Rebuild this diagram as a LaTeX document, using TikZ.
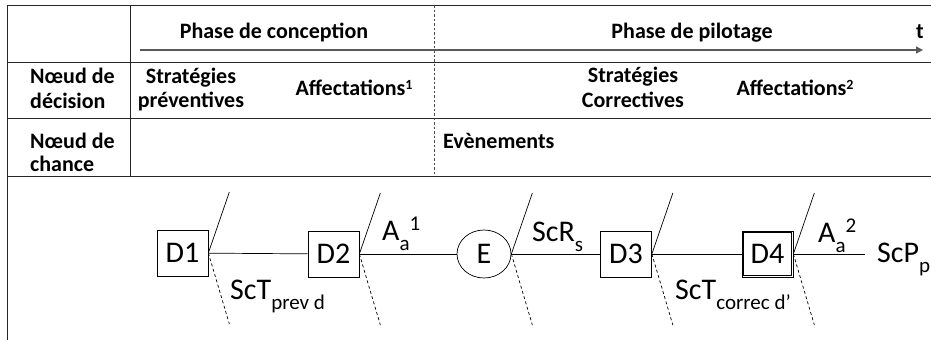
\documentclass[tikz,border=0pt]{standalone}
\usepackage{fontspec}
\setmainfont{Carlito}
\usetikzlibrary{arrows.meta,calc,shapes.geometric}
\newcommand\mysup[2][14]{\raisebox{6pt}{\fontsize{#1}{#1}\selectfont #2}}
\newcommand\lo[1]{\raisebox{-10pt}{\fontsize{21}{21}\selectfont #1}}
\newcommand\hi[1]{\raisebox{10pt}{\fontsize{21}{21}\selectfont #1}}
\tikzset{
  tbl/.style={line width=1pt, draw=black!85},
  hdr/.style={font=\bfseries\fontsize{22}{25}\selectfont, inner sep=0pt, anchor=base},
  hdrw/.style={hdr, anchor=base west},
  dbox/.style={draw, line width=0.7pt, minimum width=51pt, minimum height=46pt, inner sep=0pt, font=\fontsize{30}{30}\selectfont},
  cnode/.style={draw, line width=0.7pt, ellipse, minimum width=54pt, minimum height=48pt, inner sep=0pt, font=\fontsize{30}{30}\selectfont},
  lbl/.style={font=\fontsize{30}{30}\selectfont, inner sep=0pt, anchor=base west},
  conn/.style={line width=0.7pt},
  upl/.style={line width=0.7pt},
  dnl/.style={line width=0.7pt, dash pattern=on 3pt off 2.5pt},
}
\begin{document}
\begin{tikzpicture}[x=1pt,y=-1pt]
\useasboundingbox (0,0) rectangle (931,340);
% table
\draw[tbl] (7,5) -- (931,5);
\draw[tbl] (7,62) -- (931,62);
\draw[tbl] (7,118) -- (931,118);
\draw[tbl] (7,176) -- (931,176);
\draw[tbl] (7,5) -- (7,340);
\draw[tbl] (130,5) -- (130,176);
\draw[black!70, line width=0.8pt, dash pattern=on 2.5pt off 2pt] (434,5) -- (434,176);
\coordinate (ta) at (140,50);
\coordinate (tb) at (923,50);
\draw[black!65, line width=1.2pt, -{Triangle[length=7pt,width=7pt]}] (ta) -- (tb);
% header texts
\node[hdr] (pc) at (274,38) {Phase de conception};
\node[hdr] (pp) at (692,38) {Phase de pilotage};
\node[hdr] (tt) at (920,38) {t};
\node[hdrw] (nd1) at (30,83) {Nœud de};
\node[hdrw] (nd2) at (30,108) {décision};
\node[hdrw] (nc1) at (30,148) {Nœud de};
\node[hdrw] (nc2) at (30,171) {chance};
\node[hdr] (sp1) at (191,83) {Stratégies};
\node[hdr] (sp2) at (191,107) {préventives};
\node[hdr] (af1) at (354,95) {Affectations\mysup{1}};
\node[hdr] (sc1) at (633,82) {Stratégies};
\node[hdr] (sc2) at (633,107) {Correctives};
\node[hdr] (af2) at (795,95) {Affectations\mysup{2}};
\node[hdrw] (ev) at (443,148) {Evènements};
% decision tree
\node[dbox] (D1) at (182.5,253) {D1};
\node[dbox] (D2) at (333.5,254) {D2};
\node[cnode] (E) at (484,254) {E};
\node[dbox] (D3) at (626,254) {D3};
\node[dbox] (D4) at (767.5,254) {D4};
\draw[line width=0.7pt] ([xshift=1.6pt,yshift=-1.6pt]D4.north west) rectangle ([xshift=-1.6pt,yshift=1.6pt]D4.south east);
\coordinate (out) at (865,254);
\draw[conn] (D1) -- (D2);
\draw[conn] (D2) -- (E);
\draw[conn] (E) -- (D3);
\draw[conn] (D3) -- (D4);
\draw[conn] (D4) -- (out);
\foreach \n in {D1,D2,E,D3,D4}{
  \draw[upl] (\n.east) -- ++(21,-61);
  \draw[dnl] (\n.east) -- ++(21,71);
}
\node[lbl] (la1) at (382,240) {A\lo{a}\hi{1}};
\node[lbl] (lsr) at (532,241) {ScR\lo{s}};
\node[lbl] (la2) at (818,242) {A\lo{a}\hi{2}};
\node[lbl] (lsp) at (877,262) {ScP\lo{p}};
\node[lbl] (lst1) at (230,299) {ScT\lo{prev d}};
\node[lbl] (lst2) at (675,299) {ScT\lo{correc d’}};
\end{tikzpicture}
\end{document}
